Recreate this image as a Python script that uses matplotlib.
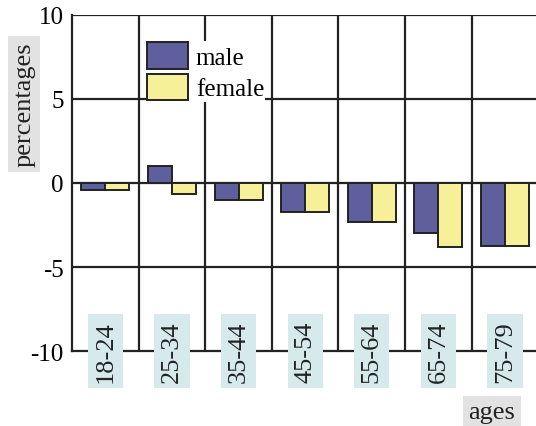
import numpy as np
import matplotlib.pyplot as plt

# data
ages = ['18-24', '25-34', '35-44', '45-54', '55-64', '65-74', '75-79']
male = [-0.4, 1.0, -1.0, -1.7, -2.35, -3.0, -3.75]
female = [-0.4, -0.65, -1.0, -1.7, -2.35, -3.8, -3.75]

plt.rcParams['font.family'] = ['Liberation Serif', 'DejaVu Serif']

fig = plt.figure(figsize=(5.36, 4.27), dpi=100)
ax = fig.add_axes([0.1343, 0.1756, 0.87, 0.787])

x = np.arange(len(ages))
w = 0.36
ax.bar(x - w / 2, male, w, color='#5f5f9e', edgecolor='#222222', linewidth=1.4,
       label='male', zorder=3)
ax.bar(x + w / 2, female, w, color='#f6f199', edgecolor='#222222', linewidth=1.4,
       label='female', zorder=3)

ax.set_xlim(-0.5, len(ages) - 0.5)
ax.set_ylim(-10, 10)
ax.set_yticks([-10, -5, 0, 5, 10])
ax.set_yticklabels(['-10', '-5', '0', '5', '10'], fontsize=18)
ax.tick_params(axis='y', length=0, pad=6)
ax.set_xticks([])

# grid: horizontal at ticks, vertical between categories
for yv in [-5, 0, 5, 10]:
    ax.axhline(yv, color='#222222', linewidth=1.6, zorder=2)
for xv in np.arange(0.5, len(ages) - 0.5, 1):
    ax.axvline(xv, color='#222222', linewidth=1.6, zorder=2)

for s in ['top', 'right']:
    ax.spines[s].set_visible(False)
for s in ['left', 'bottom']:
    ax.spines[s].set_color('#222222')
    ax.spines[s].set_linewidth(1.6)

# rotated age labels sitting on the bottom axis
for i, lab in enumerate(ages):
    ax.text(i, -10, lab, rotation=90, ha='center', va='center', fontsize=19,
            color='#222222', zorder=5,
            bbox=dict(boxstyle='square,pad=0.25', facecolor='#d6eaec',
                      edgecolor='none'))

fig.text(0.045, 0.754, 'percentages', rotation=90, ha='center', va='center',
         fontsize=19, color='#222222',
         bbox=dict(boxstyle='square,pad=0.2', facecolor='#e2e2e2', edgecolor='none'))
fig.text(0.918, 0.032, 'ages', ha='center', va='center', fontsize=19,
         color='#222222',
         bbox=dict(boxstyle='square,pad=0.2', facecolor='#e2e2e2', edgecolor='none'))

leg = ax.legend(loc='upper left', bbox_to_anchor=(0.272, 0.902),
                bbox_transform=fig.transFigure, fontsize=18, frameon=True,
                facecolor='white', edgecolor='none', framealpha=1,
                handlelength=1.65, handleheight=1.25, handletextpad=0.3,
                labelspacing=0.2, borderpad=0.05, borderaxespad=0, fancybox=False)
leg.set_zorder(4)

fig.savefig('out.png', dpi=100)
